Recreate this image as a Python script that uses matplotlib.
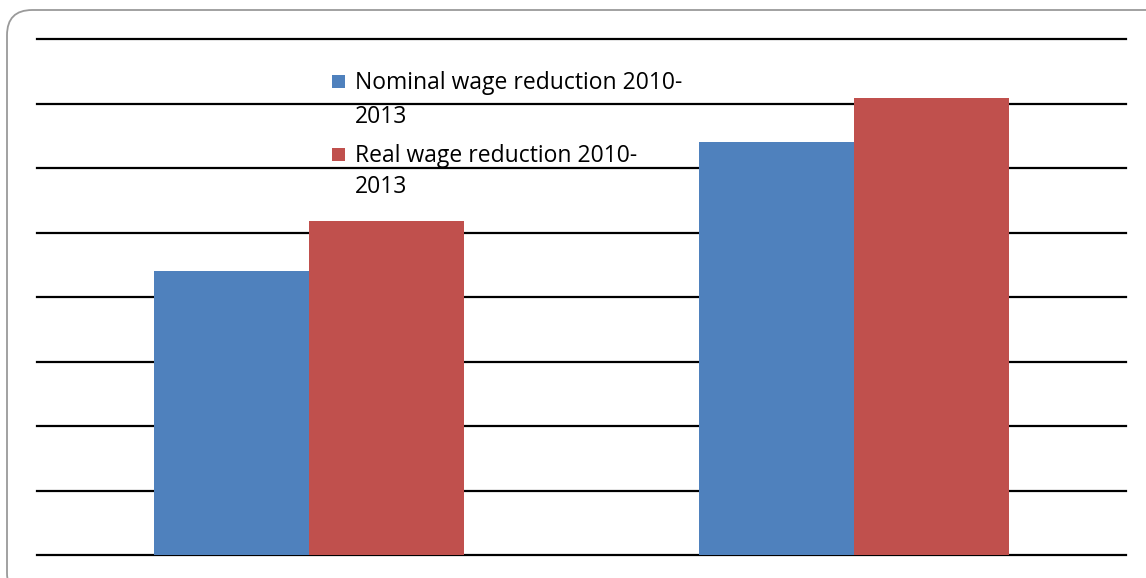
import matplotlib.pyplot as plt
from matplotlib.patches import FancyBboxPatch, Rectangle
import numpy as np

plt.rcParams['font.family'] = ['Open Sans', 'DejaVu Sans']

groups = ["Group 1", "Group 2"]
nominal = [22.0, 32.0]
real = [25.9, 35.4]
series_labels = ["Nominal wage reduction 2010-\n2013", "Real wage reduction 2010-\n2013"]
blue = '#4f81bd'
red = '#c0504d'

W, H = 1146, 578
fig = plt.figure(figsize=(W / 100, H / 100), dpi=100)

# rounded chart frame, runs off the right and bottom edges
frame = FancyBboxPatch((7 / W, -20 / H), 1.2, (H - 10 + 20) / H,
                       boxstyle="round,pad=0,rounding_size=0.022",
                       transform=fig.transFigure, facecolor='none',
                       edgecolor='#9a9a9a', linewidth=1.3, mutation_aspect=W / H,
                       zorder=-1)
fig.patches.append(frame)

ax = fig.add_axes([37 / W, (H - 555) / H, (1126 - 37) / W, (555 - 39) / H])
ax.set_facecolor('none')

x = np.arange(len(groups))
width = 0.285
ax.bar(x - width / 2, nominal, width, color=blue, zorder=3)
ax.bar(x + width / 2, real, width, color=red, zorder=3)

ax.set_xlim(-0.5, 1.5)
ax.set_ylim(0, 40)
ax.set_yticks(np.arange(0, 41, 5))
ax.yaxis.grid(True, color='black', linewidth=1.6, zorder=1)
for gl in ax.get_ygridlines():
    gl.set_clip_on(False)
ax.set_axisbelow(True)
ax.tick_params(left=False, bottom=False, labelleft=False, labelbottom=False)
for s in ax.spines.values():
    s.set_visible(False)

# legend: colour square + wrapped label, laid out by hand
legend_rows = [(blue, 89, 34), (red, 162, 31)]   # colour, first baseline px, line step px
for (c, base, step), label in zip(legend_rows, series_labels):
    fig.patches.append(Rectangle((332 / W, (H - base + 1) / H), 13 / W, 13 / H,
                                 transform=fig.transFigure, facecolor=c,
                                 edgecolor='none'))
    for k, line in enumerate(label.split('\n')):
        fig.text(355 / W, (H - base - k * step) / H, line, fontsize=16.5,
                 va='baseline', ha='left', color='black')

fig.savefig('out.png', dpi=100)
